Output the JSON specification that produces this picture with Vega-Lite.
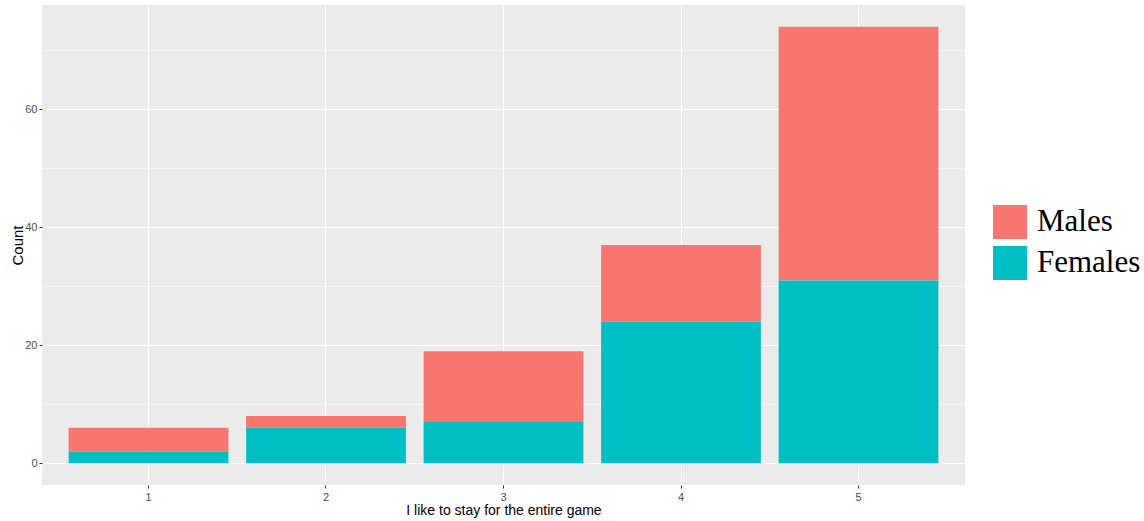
{
  "$schema": "https://vega.github.io/schema/vega-lite/v6.json",
  "autosize": "none",
  "width": 923,
  "height": 480,
  "padding": {"left": 42, "top": 5, "right": 179, "bottom": 36},
  "background": "white",
  "config": {
    "view": {"fill": "#EBEBEB", "stroke": null},
    "font": "Liberation Sans"
  },
  "data": {
    "values": [
      {"answer": "1", "sex": "Males", "count": 4},
      {"answer": "1", "sex": "Females", "count": 2},
      {"answer": "2", "sex": "Males", "count": 2},
      {"answer": "2", "sex": "Females", "count": 6},
      {"answer": "3", "sex": "Males", "count": 12},
      {"answer": "3", "sex": "Females", "count": 7},
      {"answer": "4", "sex": "Males", "count": 13},
      {"answer": "4", "sex": "Females", "count": 24},
      {"answer": "5", "sex": "Males", "count": 43},
      {"answer": "5", "sex": "Females", "count": 31}
    ]
  },
  "mark": {"type": "bar"},
  "encoding": {
    "x": {
      "field": "answer",
      "type": "ordinal",
      "scale": {"paddingInner": 0.1, "paddingOuter": 0.15},
      "axis": {
        "title": "I like to stay for the entire game",
        "titleFont": "Liberation Sans",
        "titleFontSize": 14,
        "titleFontWeight": "normal",
        "titleColor": "black",
        "titlePadding": 1,
        "labelAngle": 0,
        "labelFontSize": 11,
        "labelColor": "#4D4D4D",
        "labelPadding": 3,
        "tickSize": 3,
        "tickColor": "#333333",
        "domain": false,
        "grid": true,
        "gridColor": "white",
        "gridWidth": 1,
        "bandPosition": 0.5
      }
    },
    "y": {
      "field": "count",
      "type": "quantitative",
      "aggregate": "sum",
      "stack": "zero",
      "scale": {"domain": [-3.7, 77.7], "nice": false, "zero": false},
      "axis": {
        "title": "Count",
        "titleFontSize": 15,
        "titleFontWeight": "normal",
        "titleColor": "black",
        "titlePadding": -1,
        "values": [0, 10, 20, 30, 40, 50, 60, 70],
        "labelExpr": "datum.value % 20 === 0 ? datum.label : ''",
        "labelFontSize": 11,
        "labelColor": "#4D4D4D",
        "labelPadding": 2,
        "tickSize": 3,
        "tickColor": "#333333",
        "tickOpacity": {"condition": {"test": "datum.value % 20 !== 0", "value": 0}, "value": 1},
        "domain": false,
        "grid": true,
        "gridColor": "white",
        "gridWidth": {"condition": {"test": "datum.value % 20 !== 0", "value": 0.5}, "value": 1}
      }
    },
    "color": {
      "field": "sex",
      "type": "nominal",
      "scale": {"domain": ["Males", "Females"], "range": ["#F8766D", "#00BFC4"]},
      "legend": {
        "title": null,
        "orient": "none",
        "legendX": 951,
        "legendY": 200,
        "symbolType": "square",
        "symbolSize": 1156,
        "symbolStrokeWidth": 0,
        "symbolOpacity": 1,
        "labelFont": "Liberation Serif",
        "labelFontSize": 31,
        "labelColor": "black",
        "labelOffset": 10,
        "rowPadding": 7,
        "labelLimit": 300
      }
    },
    "order": {"field": "sex", "sort": "ascending"}
  }
}
